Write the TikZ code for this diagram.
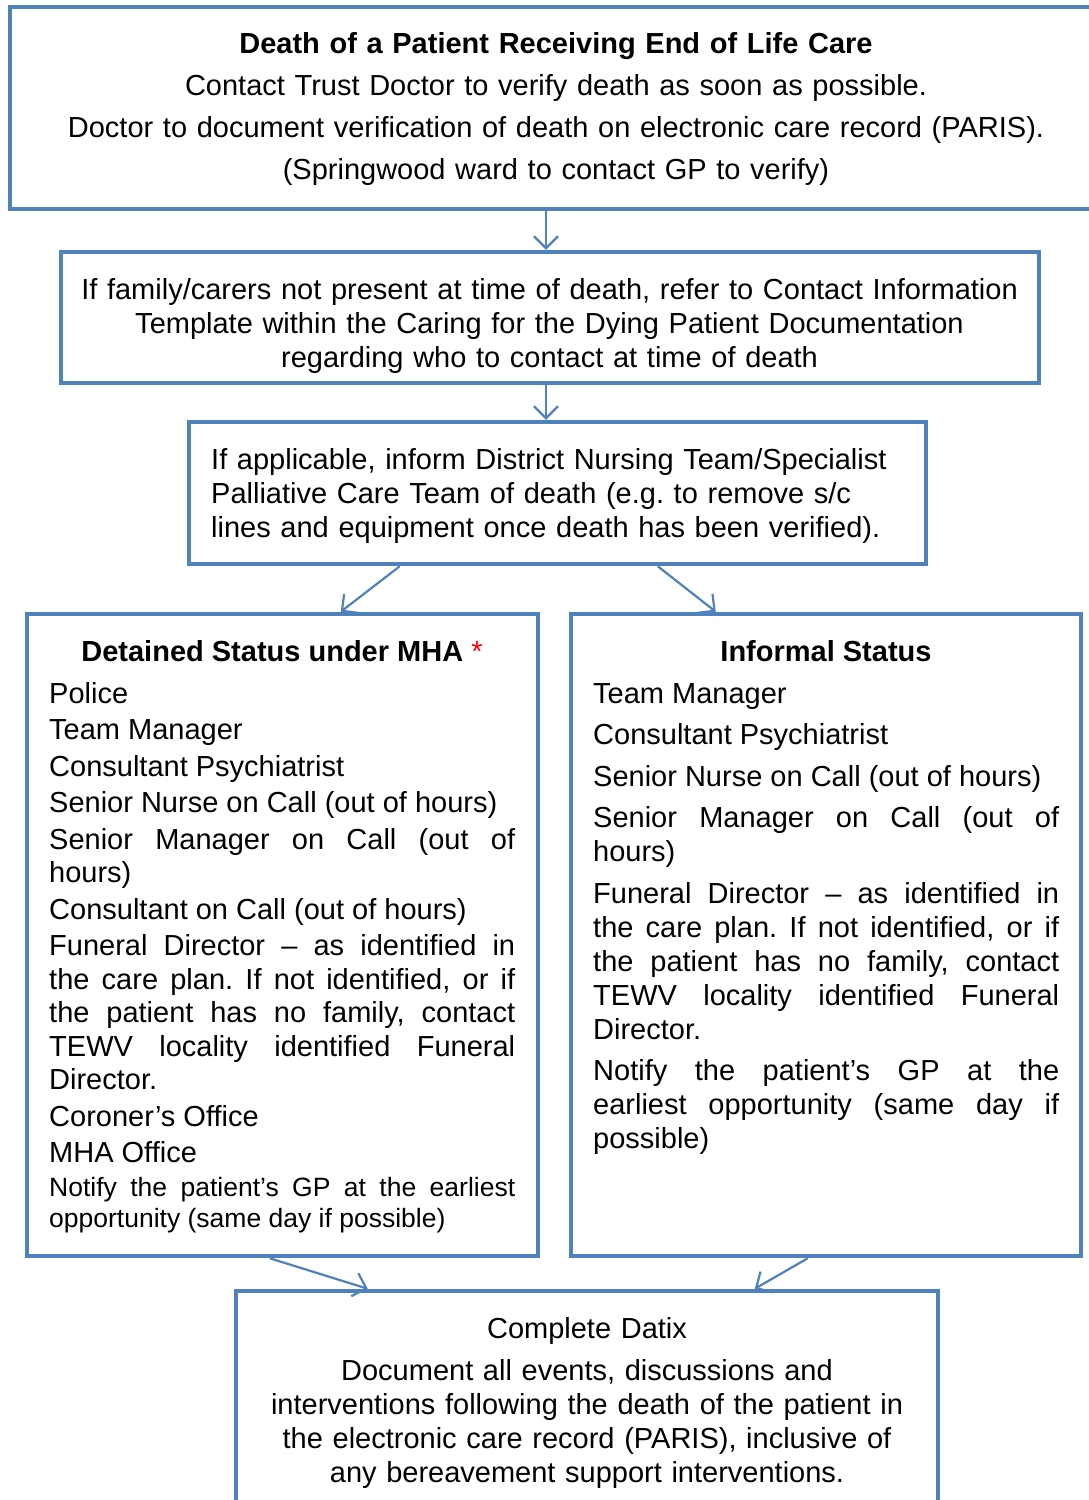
\documentclass[tikz,border=0pt]{standalone}
\usepackage{fontspec}
\setmainfont{Liberation Sans}
\usetikzlibrary{arrows.meta,calc}
\definecolor{bord}{HTML}{4F81BD}
\frenchspacing
\begin{document}
\begin{tikzpicture}[x=1pt,y=-1pt,
  box/.style={draw=bord,line width=4.5pt,inner sep=0pt,rectangle},
  arr/.style={draw=bord,line width=2.2pt,-{Straight Barb[length=12pt,width=24pt]}},
  txt/.style={inner sep=0pt,font=\fontsize{29}{34}\selectfont\frenchspacing}]
\useasboundingbox (0,0) rectangle (1088,1500);
% boxes
\node[box,minimum width=1085pt,minimum height=202pt] (b1) at (552.5,108) {};
\node[box,minimum width=978pt,minimum height=131pt] (b2) at (550,317.5) {};
\node[box,minimum width=737pt,minimum height=142pt] (b3) at (557.5,493) {};
\node[box,minimum width=511pt,minimum height=642pt] (b4) at (282.5,935) {};
\node[box,minimum width=510pt,minimum height=642pt] (b5) at (826,935) {};
\node[box,minimum width=702pt,minimum height=229pt] (b6) at (587,1405.5) {};
% texts
\node[txt,text width=1060pt,align=center,anchor=base,font=\fontsize{29}{42}\selectfont] (t1) at (556,53)
  {\textbf{Death of a Patient Receiving End of Life Care}\\
   Contact Trust Doctor to verify death as soon as possible.\\
   Doctor to document verification of death on electronic care record (PARIS).\\
   (Springwood ward to contact GP to verify)};
\node[txt,text width=960pt,align=center,anchor=base] (t2) at (549.5,299)
  {If family/carers not present at time of death, refer to Contact Information\\
   Template within the Caring for the Dying Patient Documentation\\
   regarding who to contact at time of death};
\node[txt,text width=700pt,align=left,anchor=base west] (t3) at (211,469)
  {If applicable, inform District Nursing Team/Specialist\\
   Palliative Care Team of death (e.g. to remove s/c\\
   lines and equipment once death has been verified).};
\node[txt,anchor=base] (h4) at (282,661)
  {\textbf{Detained Status under MHA} \textcolor{red}{*}};
\node[txt,anchor=base] (h5) at (826,661) {\textbf{Informal Status}};
\node[txt,anchor=base west,text width=466pt,align=justify,font=\fontsize{29}{33.5}\selectfont] (t4) at (49,703)
  {\setlength{\parskip}{3pt}Police\par
   Team Manager\par
   Consultant Psychiatrist\par
   Senior Nurse on Call (out of hours)\par
   Senior Manager on Call (out of\linebreak hours)\par
   Consultant on Call (out of hours)\par
   Funeral Director – as identified in\linebreak the care plan. If not identified, or if\linebreak the patient has no family, contact\linebreak TEWV locality identified Funeral\linebreak Director.\par
   Coroner’s Office\par
   MHA Office\par
   {\fontsize{26.5}{31}\selectfont Notify the patient’s GP at the earliest\linebreak opportunity (same day if possible)\par}};
\node[txt,anchor=base west,text width=466pt,align=justify,font=\fontsize{29}{34}\selectfont] (t5) at (593,703)
  {\setlength{\parskip}{7.5pt}Team Manager\par
   Consultant Psychiatrist\par
   Senior Nurse on Call (out of hours)\par
   Senior Manager on Call (out of\linebreak hours)\par
   Funeral Director – as identified in\linebreak the care plan. If not identified, or if\linebreak the patient has no family, contact\linebreak TEWV locality identified Funeral\linebreak Director.\par
   Notify the patient’s GP at the\linebreak earliest opportunity (same day if\linebreak possible)\par};
\node[txt,text width=690pt,align=center,anchor=base] (t6) at (587,1338)
  {Complete Datix\\[8pt]
   Document all events, discussions and\\
   interventions following the death of the patient in\\
   the electronic care record (PARIS), inclusive of\\
   any bereavement support interventions.};
% connectors
\draw[arr] ([xshift=-6.5pt]b1.south) -- ([xshift=-4pt]b2.north);
\draw[arr] ([xshift=-4pt]b2.north |- b2.south) -- ([xshift=-11.5pt]b3.north);
\draw[arr] ([xshift=213pt]b3.south west) -- ([xshift=316pt]b4.north west);
\draw[arr] ([xshift=471pt]b3.south west) -- ([xshift=147pt]b5.north west);
\draw[arr] ([xshift=245pt]b4.south west) -- ([xshift=134pt]b6.north west);
\draw[arr] ([xshift=239pt]b5.south west) -- ([xshift=521pt]b6.north west);
\end{tikzpicture}
\end{document}
